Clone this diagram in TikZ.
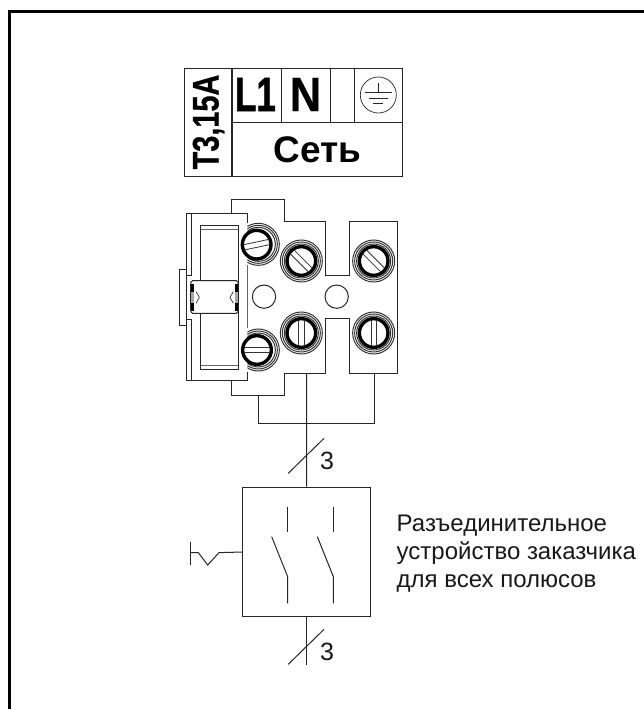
\documentclass[tikz,border=0pt]{standalone}
\usepackage{fontspec}
\setmainfont{Liberation Sans}
\tikzset{
  ln/.style={line width=1pt,black!85},
  hv/.style={line width=1.3pt,black!85},
  ring/.style={line width=1pt,black!80},
  thickring/.style={line width=3.4pt,black},
  slotline/.style={line width=0.8pt,black!80},
  num/.style={inner sep=0pt,font=\fontsize{25}{25}\selectfont,black!90},
}
\newcommand{\screwhead}[4]{% cx, cy, angle, name
  \node[circle,minimum size=43pt*2/3,inner sep=0pt,fill=white,draw=none] (#4) at (#1,#2) {};
  \draw[thickring] (#1,#2) circle[radius=43];
  \begin{scope}[shift={(#1,#2)},rotate=#3]
    \draw[slotline] (-38,-8) -- (38,-8);
    \draw[slotline] (-38,8) -- (38,8);
  \end{scope}
}
\begin{document}
\begin{tikzpicture}[x=1pt,y=-1pt]
\useasboundingbox (0,0) rectangle (643,709);
\fill[white] (0,0) rectangle (643,709);
% page frame
\draw[line width=3pt,black] (9.5,712) -- (9.5,11.5) -- (646,11.5);

% label plate
\draw[hv] (184.5,68.3) rectangle (402.7,176.7);
\draw[hv] (232,68.3) -- (232,176.7);
\draw[ln] (232,122) -- (402.7,122);
\draw[ln] (281,68.3) -- (281,122);
\draw[ln] (330.3,68.3) -- (330.3,122);
\draw[ln] (354.3,68.3) -- (354.3,122);
\node[inner sep=0pt,font=\bfseries\fontsize{48}{48}\selectfont] (tl1) at (255.5,94.5) {\addfontfeature{FakeBold=1.5}\scalebox{.73}[1]{L1}};
\node[inner sep=0pt,font=\bfseries\fontsize{48}{48}\selectfont] (tn) at (305.5,94.5) {\addfontfeature{FakeBold=.6}\scalebox{.9}[1]{N}};
\node[inner sep=0pt,rotate=90,font=\bfseries\fontsize{37}{37}\selectfont] (tfuse) at (208.5,122) {\addfontfeature{FakeBold=.8}\scalebox{.78}[1]{Т3,15А}};
\node[inner sep=0pt,font=\bfseries\fontsize{37}{37}\selectfont] (tnet) at (317.7,150) {Сеть};
% earth symbol
\node[circle,draw,line width=0.7pt,black!85,minimum size=36pt,inner sep=0pt] (earth) at (378.3,95) {};
\draw[line width=.7pt,black!85] (378.3,83) -- (378.3,92.3);
\draw[line width=.7pt,black!85] (365,92.3) -- (391.7,92.3);
\draw[line width=.7pt,black!85] (369,98.3) -- (388,98.3);
\draw[line width=.7pt,black!85] (373.3,103.3) -- (383.3,103.3);

% terminal block, in units of one third of a pixel
\begin{scope}[shift={(170,190)},scale=1/3]
  \coordinate (tapA) at (265,615);
  \coordinate (tapB) at (410,549);
  \coordinate (tapC) at (613,549);
  % rings first, clipped by the body on the left
  \begin{scope}
    \clip (232,60) rectangle (700,600);
    \foreach \c/\d in {265/163,265/480,394/213,611/213,394/429,611/429}{
      \foreach \r in {51,57,63}{\draw[ring] (\c,\d) circle[radius=\r];}
    }
  \end{scope}
  % terminal outline
  \draw[ln] (185,71) -- (185,28) -- (343,28) -- (343,93) -- (465,93) -- (465,256) -- (539,256) -- (539,93) -- (682,93)
     -- (682,549) -- (539,549) -- (539,386) -- (465,386) -- (465,549) -- (343,549) -- (343,615) -- (185,615) -- (185,572);
  % clamp body
  \draw[ln] (64,71) -- (50,71) -- (50,572) -- (64,572);
  \draw[ln] (64,71) -- (232,71) -- (232,100);
  \draw[ln] (64,572) -- (232,572) -- (232,545);
  \draw[line width=.6pt,black!60] (232,225) -- (232,415);
  \draw[ln] (64,71) -- (64,256) -- (48,256) -- (48,237) -- (28,237) -- (28,406) -- (48,406) -- (48,387) -- (64,387) -- (64,572);
  % window
  \draw[ln] (92,107) rectangle (205,537);
  \draw[line width=.6pt,black!60] (92,118) -- (205,118);
  \draw[line width=.6pt,black!60] (92,525) -- (205,525);
  % band
  \draw[ln,fill=white] (68,272) -- (199,272) to[out=0,in=90] (205,285) -- (205,358) to[out=-90,in=0] (199,370) -- (68,370) to[out=180,in=-90] (62,358) -- (62,285) to[out=90,in=180] (68,272) -- cycle;
  \fill[black!35] (63,305) rectangle (71,340);
  \fill[black!35] (196,305) rectangle (204,340);
  \draw[line width=3pt,black] (66,282) -- (66,305);
  \draw[line width=3pt,black] (66,340) -- (66,362);
  \draw[line width=3pt,black] (200,282) -- (200,305);
  \draw[line width=3pt,black] (200,340) -- (200,362);
  \draw[line width=.7pt,black!80] (78,305) -- (88,322) -- (78,340);
  \draw[line width=.7pt,black!80] (190,305) -- (180,322) -- (190,340);
  % screw heads
  \screwhead{260}{164}{12}{sA}
  \screwhead{261}{480}{0}{sF}
  \screwhead{394}{213}{-45}{sB}
  \screwhead{611}{213}{-45}{sC}
  \screwhead{394}{429}{90}{sD}
  \screwhead{611}{429}{90}{sE}
  % holes
  \node[circle,draw,ln,minimum size=70pt/3,inner sep=0pt] (h1) at (282,320) {};
  \node[circle,draw,ln,minimum size=70pt/3,inner sep=0pt] (h2) at (500,320) {};
  % bridge wire
  \coordinate (busL) at (265,700);
  \coordinate (busR) at (613,700);
  \draw[ln] (tapA) -- (busL) -- (busR) -- (tapC);
\end{scope}

% disconnector
\node[draw,hv,minimum width=128pt,minimum height=129.4pt,inner sep=0pt] (sw) at (306.7,552) {};
\coordinate (wireEnd) at (306.7,665);
\draw[ln] (tapB) -- (sw.north);
\draw[ln] (sw.south) -- (wireEnd);
\coordinate (s1a) at (288.3,473.3); \coordinate (s1b) at (324,438.3);
\coordinate (s2a) at (288.3,664.3); \coordinate (s2b) at (324,629.3);
\draw[ln] (s1a) -- (s1b);
\draw[ln] (s2a) -- (s2b);
\node[num] (n1) at (327,461) {3};
\node[num] (n2) at (327,651.7) {3};
\begin{scope}[shift={(170,430)},scale=1/3]
  \draw[ln] (353,230) -- (353,305);
  \draw[ln] (490,230) -- (490,305);
  \draw[ln] (305,320) -- (353,440) -- (353,520);
  \draw[ln] (442,320) -- (490,440) -- (490,520);
  \coordinate (hnd) at (60,368);
  \coordinate (hndT) at (60,335);
  \coordinate (hndB) at (60,405);
  \coordinate (hnd1) at (147,368);
  \coordinate (hnd2) at (113,405);
  \coordinate (hnd3) at (85,368);
\end{scope}
\draw[ln] (sw.west) -- (hnd1) -- (hnd2) -- (hnd3) -- (hnd);
\draw[ln] (hndT) -- (hndB);
\node[anchor=base west,inner sep=0pt,align=left,font=\fontsize{24}{28}\selectfont,black!90] (cap) at (396.5,587) {Разъединительное\\устройство заказчика\\для всех полюсов};
\end{tikzpicture}
\end{document}
